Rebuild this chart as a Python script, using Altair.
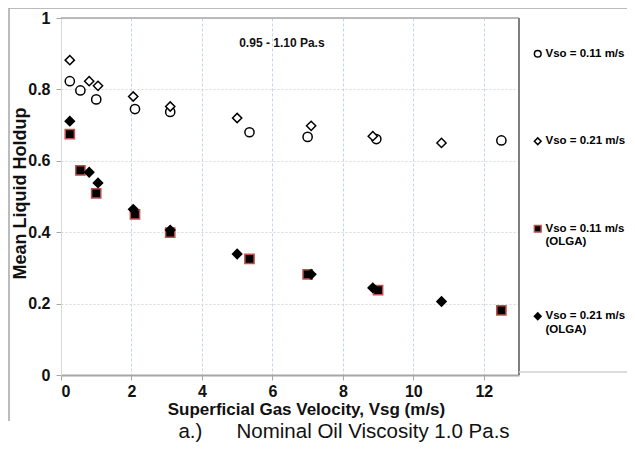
import altair as alt
import pandas as pd

# ---- data ----
series_names = ["Vso = 0.11 m/s", "Vso = 0.21 m/s",
                "Vso = 0.11 m/s (OLGA)", "Vso = 0.21 m/s (OLGA)"]

vsg_011 = [0.25, 0.55, 1.0, 2.1, 3.1, 5.35, 7.0, 8.95, 12.5]
hold_011 = [0.823, 0.797, 0.772, 0.745, 0.737, 0.680, 0.667, 0.661, 0.657]

vsg_021 = [0.25, 0.8, 1.05, 2.05, 3.1, 5.0, 7.1, 8.85, 10.8]
hold_021 = [0.882, 0.823, 0.810, 0.780, 0.752, 0.720, 0.698, 0.669, 0.650]

vsg_011_olga = [0.25, 0.55, 1.0, 2.1, 3.1, 5.35, 7.0, 9.0, 12.5]
hold_011_olga = [0.675, 0.573, 0.509, 0.450, 0.399, 0.325, 0.282, 0.238, 0.181]

vsg_021_olga = [0.25, 0.8, 1.05, 2.05, 3.1, 5.0, 7.1, 8.85, 10.8]
hold_021_olga = [0.711, 0.568, 0.538, 0.464, 0.406, 0.339, 0.282, 0.244, 0.206]

x_ticks = [0, 2, 4, 6, 8, 10, 12]
y_ticks = [0, 0.2, 0.4, 0.6, 0.8, 1.0]

annotation = "0.95 - 1.10 Pa.s"
annotation_x = [6.27]
annotation_y = [0.93]
caption = "a.)\u00a0\u00a0\u00a0\u00a0\u00a0\u00a0Nominal Oil Viscosity 1.0 Pa.s"

rows = []
for name, xs, ys in zip(series_names,
                        [vsg_011, vsg_021, vsg_011_olga, vsg_021_olga],
                        [hold_011, hold_021, hold_011_olga, hold_021_olga]):
    for xv, yv in zip(xs, ys):
        rows.append({"vsg": xv, "holdup": yv, "series": name})
df = pd.DataFrame(rows)

NARROW = "Liberation Sans Narrow, Arial Narrow, Liberation Sans, Arial, sans-serif"
SANS = "Liberation Sans, Arial, sans-serif"

W, H = 458, 357

xscale = alt.Scale(domain=[0, 13], nice=False, zero=False)
yscale = alt.Scale(domain=[0, 1], nice=False)

legend = alt.Legend(
    title=None, orient="none", legendX=471, legendY=30,
    labelFont=SANS, labelFontSize=11.5, labelFontWeight="bold", labelColor="#000",
    symbolSize=45, symbolStrokeWidth=1.5, rowPadding=61.5, labelOffset=2,
    padding=0,
    labelExpr="indexof(datum.label, '(OLGA)') > 0 ? [replace(datum.label, ' (OLGA)', ''), '(OLGA)'] : [datum.label, '']",
    labelBaseline="middle", labelLimit=200,
)

points = alt.Chart(df).mark_point(size=85, strokeWidth=1.5, opacity=1).encode(
    x=alt.X("vsg:Q", scale=xscale,
            axis=alt.Axis(values=x_ticks, title="Superficial Gas Velocity, Vsg (m/s)",
                          grid=True, gridColor="#c6d5ee", gridDash=[3, 2], gridWidth=1,
                          domainColor="#a6a6a6", domainWidth=2,
                          tickColor="#a6a6a6", tickSize=5, tickWidth=1,
                          labelFont=NARROW, labelFontSize=16, labelFontWeight="bold",
                          labelColor="#111", labelPadding=3,
                          titleFont=NARROW, titleFontSize=17, titleFontWeight="bold",
                          titleColor="#111", titleX=245, titleY=34,
                          titleBaseline="middle")),
    y=alt.Y("holdup:Q", scale=yscale,
            axis=alt.Axis(values=y_ticks, format=".1~f", title="Mean Liquid Holdup",
                          grid=True, gridColor="#d9d9d9", gridDash=[2, 2], gridWidth=1,
                          domainColor="#d9d9d9", domainWidth=1,
                          tickColor="#a6a6a6", tickSize=5, tickWidth=1,
                          labelFont=NARROW, labelFontSize=16, labelFontWeight="bold",
                          labelColor="#111", labelPadding=6,
                          titleFont=NARROW, titleFontSize=18, titleFontWeight="bold",
                          titleColor="#111", titleX=-41, titleY=175,
                          titleAngle=270, titleBaseline="middle", titleAlign="center")),
    shape=alt.Shape("series:N", scale=alt.Scale(domain=series_names,
                    range=["circle", "diamond", "square", "diamond"]), legend=legend),
    fill=alt.Fill("series:N", scale=alt.Scale(domain=series_names,
                  range=["white", "white", "black", "black"]), legend=legend),
    stroke=alt.Stroke("series:N", scale=alt.Scale(domain=series_names,
                      range=["black", "black", "#c0504d", "black"]), legend=legend),
)

ann_df = pd.DataFrame({"x": annotation_x, "y": annotation_y, "t": [annotation]})
ann = alt.Chart(ann_df).mark_text(font=NARROW, fontSize=12, fontWeight="bold",
                                  color="#111", align="center", baseline="middle").encode(
    x=alt.X("x:Q", scale=xscale), y=alt.Y("y:Q", scale=yscale), text="t:N")

one = pd.DataFrame({"a": [0]})
cap = alt.Chart(one).mark_text(font=SANS, fontSize=20.5, color="#111",
                               align="center", baseline="middle").encode(
    x=alt.value(283), y=alt.value(414), text=alt.value(caption))

frame_left = alt.Chart(one).mark_rule(color="#a6a6a6", strokeWidth=1.5).encode(
    x=alt.value(-52), y=alt.value(-10), y2=alt.value(403))
frame_top = alt.Chart(one).mark_rule(color="#a6a6a6", strokeWidth=1.5).encode(
    x=alt.value(-52), x2=alt.value(566), y=alt.value(-10))
plot_top = alt.Chart(one).mark_rule(color="#a6a6a6", strokeWidth=1.5).encode(
    x=alt.value(0), x2=alt.value(W), y=alt.value(0))
plot_right = alt.Chart(one).mark_rule(color="#7f7f7f", strokeWidth=2).encode(
    x=alt.value(W), y=alt.value(0), y2=alt.value(H))
legend_bottom = alt.Chart(one).mark_rule(color="#d0d0d0", strokeWidth=1.5).encode(
    x=alt.value(W), x2=alt.value(566), y=alt.value(354))

chart = alt.layer(points, ann, cap, frame_left, frame_top, plot_top, plot_right,
                  legend_bottom).properties(
    width=W, height=H,
    autosize=alt.AutoSizeParams(type="none"),
    padding={"left": 53, "top": 10, "right": 108, "bottom": 67},
    background="white",
).configure_view(stroke=None)

chart.save("out.html", embed_options={"renderer": "svg", "actions": False})
